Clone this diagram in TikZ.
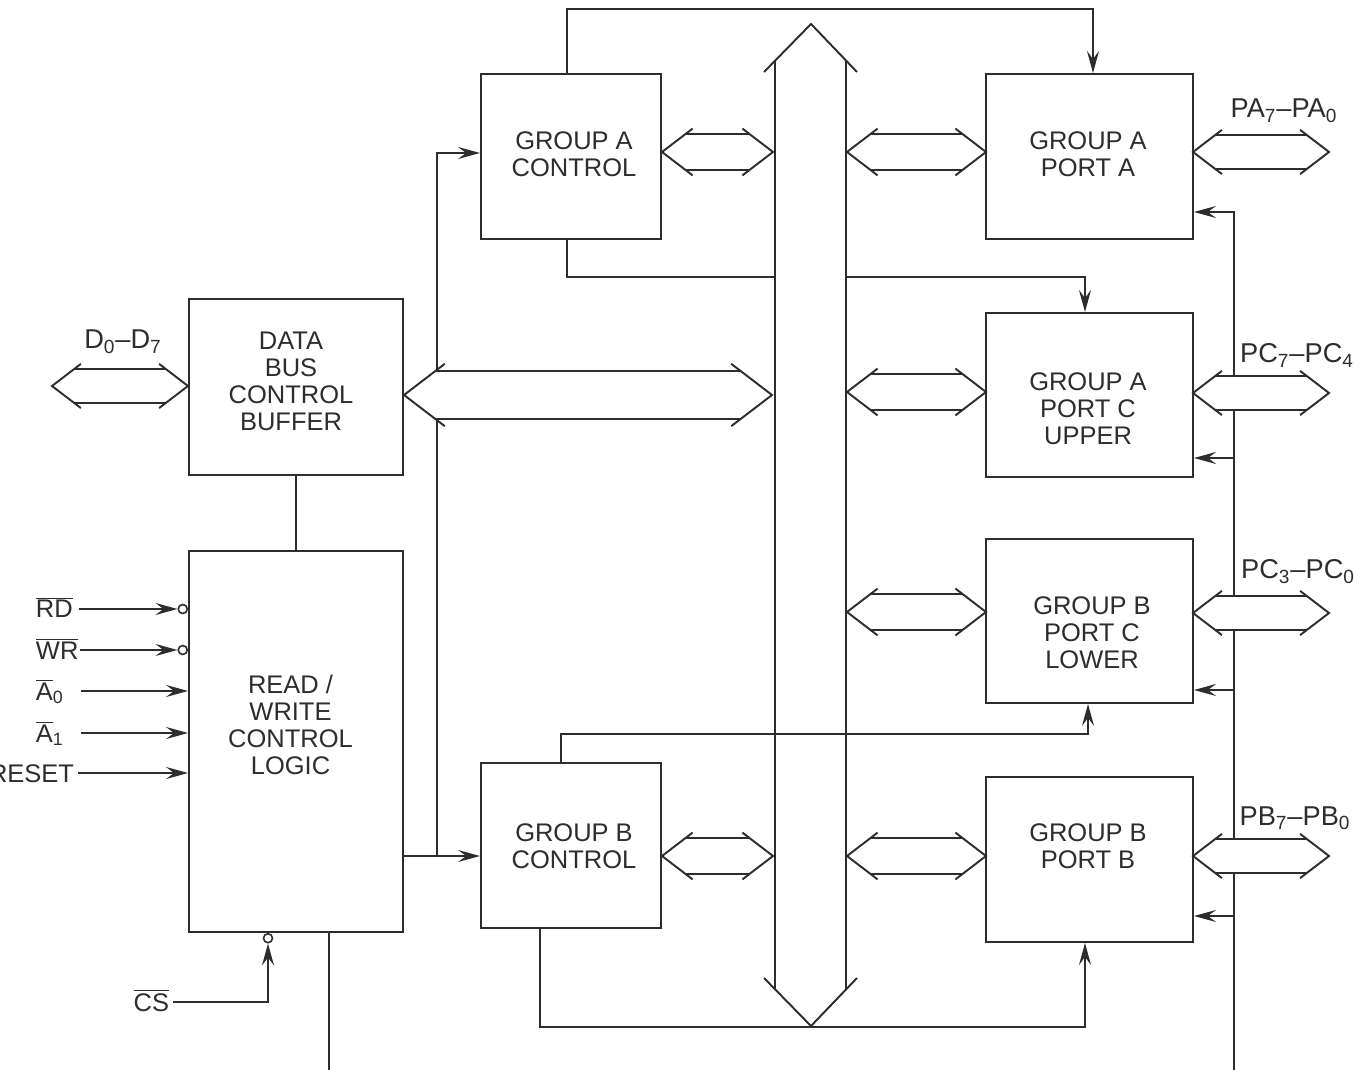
\documentclass[tikz,border=0pt]{standalone}
\usepackage{fontspec}
\setmainfont{Liberation Sans}
\usetikzlibrary{arrows.meta,calc,positioning}
\definecolor{lineGray}{RGB}{45,45,45}
\newcommand{\ovl}[1]{\ensuremath{\overline{\hbox{#1}}}}
% horizontal bus arrow: [half height] x1, x2, y
\newcommand{\hbus}[4][18]{%
  \fill[white] (#2,#4) -- ({#2+1.31*#1},{#4-#1}) -- ({#3-1.31*#1},{#4-#1}) -- (#3,#4)
    -- ({#3-1.31*#1},{#4+#1}) -- ({#2+1.31*#1},{#4+#1}) -- cycle;
  \draw ({#2+1.7*#1},{#4-1.3*#1}) -- (#2,#4) -- ({#2+1.7*#1},{#4+1.3*#1});
  \draw ({#3-1.7*#1},{#4-1.3*#1}) -- (#3,#4) -- ({#3-1.7*#1},{#4+1.3*#1});
  \draw ({#2+1.31*#1},{#4-#1}) -- ({#3-1.31*#1},{#4-#1});
  \draw ({#2+1.31*#1},{#4+#1}) -- ({#3-1.31*#1},{#4+#1});
}
\tikzset{
  blk/.style={draw=lineGray, inner sep=0pt},
  txt/.style={align=center, inner sep=0pt, font=\fontsize{14.5}{15.4}\selectfont},
  sig/.style={inner sep=0pt, font=\fontsize{14.5}{15.4}\selectfont},
  buslabel/.style={inner sep=0pt, font=\fontsize{15.5}{16}\selectfont},
  arr/.style={-{Stealth[length=4.4mm,width=2.4mm,inset=1.6mm]}},
  bubble/.style={circle, draw=lineGray, fill=white, line width=0.9pt, minimum size=0.18cm, inner sep=0pt}
}

\begin{document}
\begin{tikzpicture}[x=0.02cm,y=-0.02cm,line width=1.1pt,color=lineGray]
  \useasboundingbox (0,0) rectangle (1355,1070);
  % blocks
  \node[blk, minimum width=4.28cm, minimum height=3.52cm] (dbb) at (296,387) {};
  \node[txt] (dbb-t) at (291,381) {DATA\\BUS\\CONTROL\\BUFFER};
  \node[blk, minimum width=4.28cm, minimum height=7.62cm] (rwl) at (296,741.5) {};
  \node[txt] (rwl-t) at (290.5,725) {READ /\\WRITE\\CONTROL\\LOGIC};
  \node[blk, minimum width=3.6cm, minimum height=3.3cm] (gac) at (571,156.5) {};
  \node[txt] (gac-t) at (574,154.5) {GROUP A\\CONTROL};
  \node[blk, minimum width=3.6cm, minimum height=3.3cm] (gbc) at (571,845.5) {};
  \node[txt] (gbc-t) at (574,846.5) {GROUP B\\CONTROL};
  \node[blk, minimum width=4.14cm, minimum height=3.3cm] (pa) at (1089.5,156.5) {};
  \node[txt] (pa-t) at (1088,154.5) {GROUP A\\PORT A};
  \node[blk, minimum width=4.14cm, minimum height=3.28cm] (pcu) at (1089.5,395) {};
  \node[txt] (pcu-t) at (1088,409) {GROUP A\\PORT C\\UPPER};
  \node[blk, minimum width=4.14cm, minimum height=3.28cm] (pcl) at (1089.5,621) {};
  \node[txt] (pcl-t) at (1092,633) {GROUP B\\PORT C\\LOWER};
  \node[blk, minimum width=4.14cm, minimum height=3.3cm] (pb) at (1089.5,859.5) {};
  \node[txt] (pb-t) at (1088,846.5) {GROUP B\\PORT B};

  % control wires
  \draw (dbb.south) -- (rwl.north);
  \draw[arr] ($(gac.north)+(-4,0)$) -- ++(0,-64) -| ($(pa.north)+(3.5,0)$);
  \draw[arr] ($(gac.south)+(-4,0)$) -- ++(0,37) -| ($(pcu.north)+(-4.5,0)$);
  \coordinate (rwout) at ($(rwl.east)+(0,114.5)$);
  \coordinate (tap) at ($(rwout)+(33,0)$);
  \draw[arr] (rwout) -- (rwout -| gbc.west);
  \draw[arr] (tap) |- ($(gac.west)+(0,-3.5)$);
  \draw[arr] ($(gbc.south)+(-31,0)$) -- ++(0,98) -| ($(pb.south)+(-4.5,0)$);
  \draw ($(rwl.south)+(33,0)$) -- ++(0,140);
  \coordinate (rbot) at (1234,1075);
  \draw[arr] (rbot) |- ($(pa.east)+(0,55.5)$);
  \draw[arr] (rbot) |- ($(pcu.east)+(0,63)$);
  \draw[arr] (rbot) |- ($(pcl.east)+(0,69)$);
  \draw[arr] (rbot) |- ($(pb.east)+(0,56.5)$);

  % input signals
  \node[sig, anchor=base west] (rd) at (35,618) {\ovl{RD}};
  \node[sig, anchor=base west] (wr) at (35,659) {\ovl{WR}};
  \node[sig, anchor=base west] (a0) at (35,700) {\ovl{A}\textsubscript{0}};
  \node[sig, anchor=base west] (a1) at (35,742) {\ovl{A}\textsubscript{1}};
  \node[sig, anchor=base east] (rst) at (75,782) {RESET};
  \node[sig, anchor=base east] (cs) at (170,1011) {\ovl{CS}};
  \node[bubble, anchor=east] (rd-b) at ($(rd.base east -| rwl.west)+(0,-9)$) {};
  \node[bubble, anchor=east] (wr-b) at ($(wr.base east -| rwl.west)+(0,-9)$) {};
  \node[bubble, anchor=north] (cs-b) at ($(rwl.south)+(-28,0)$) {};
  \draw[arr] ($(rd.base east)+(5,-9)$) -- (rd-b);
  \draw[arr] ($(wr.base east)+(1,-9)$) -- (wr-b);
  \draw[arr] ($(a0.base east)+(16,-9)$) -- ($(a0.base east -| rwl.west)+(0,-9)$);
  \draw[arr] ($(a1.base east)+(16,-9)$) -- ($(a1.base east -| rwl.west)+(0,-9)$);
  \draw[arr] ($(rst.base east)+(3,-9)$) -- ($(rst.base east -| rwl.west)+(0,-9)$);
  \draw[arr] ($(cs.base east)+(3,-9)$) -| (cs-b);

  % buses
  \hbus[17]{52}{188}{386}
  \hbus[24]{404}{772}{395}
  \hbus{662}{773}{152}
  \hbus{662}{773}{856}
  \hbus{847}{986}{152}
  \hbus{847}{986}{392}
  \hbus{847}{986}{612}
  \hbus{847}{986}{856}
  \hbus[17]{1193}{1329}{152}
  \hbus[17]{1193}{1329}{393}
  \hbus[17]{1193}{1329}{613}
  \hbus[17]{1193}{1329}{856}
  \fill[white] (811,24) -- (775,61) -- (775,989) -- (811,1026) -- (846,989) -- (846,61) -- cycle;
  \draw (764,72) -- (811,24) -- (857,72);
  \draw (764,978) -- (811,1026) -- (857,978);
  \draw (775,61) -- (775,989);
  \draw (846,61) -- (846,989);
  \draw[arr] ($(gbc.north)+(-10,0)$) -- ++(0,-28) -| ($(pcl.south)+(-1.5,0)$);

  % bus labels
  \node[buslabel, anchor=base] (d-l) at (123,349) {D\textsubscript{0}--D\textsubscript{7}};
  \node[buslabel, anchor=base] (pa-l) at (1284,118) {PA\textsubscript{7}--PA\textsubscript{0}};
  \node[buslabel, anchor=base] (pcu-l) at (1297,363) {PC\textsubscript{7}--PC\textsubscript{4}};
  \node[buslabel, anchor=base] (pcl-l) at (1298,579) {PC\textsubscript{3}--PC\textsubscript{0}};
  \node[buslabel, anchor=base] (pb-l) at (1295,825) {PB\textsubscript{7}--PB\textsubscript{0}};
\end{tikzpicture}
\end{document}
